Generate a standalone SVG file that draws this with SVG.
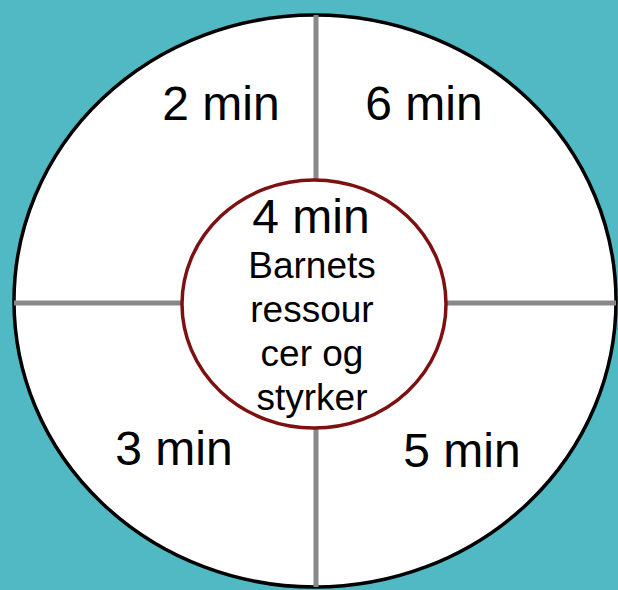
<svg xmlns="http://www.w3.org/2000/svg" width="618" height="590" viewBox="0 0 618 590">
<style>
.t{font-family:"Liberation Sans",Arial,sans-serif;fill:#000;text-anchor:middle}
.big{font-size:48px}
.small{font-size:37px}
.div{stroke:#888;stroke-width:5}
</style>
<rect width="618" height="590" fill="#50b9c3"/>
<g id="outer">
<ellipse cx="315" cy="301" rx="301" ry="286" fill="#fff" stroke="#000" stroke-width="3.5"/>
</g>
<g id="connectors">
<line class="div" x1="316" y1="15" x2="316" y2="587"/>
<line class="div" x1="14" y1="303" x2="616" y2="303"/>
</g>
<g id="q2"><text class="t big" x="221" y="120">2 min</text></g>
<g id="q6"><text class="t big" x="424" y="120">6 min</text></g>
<g id="q3"><text class="t big" x="174" y="465">3 min</text></g>
<g id="q5"><text class="t big" x="462" y="467">5 min</text></g>
<g id="center">
<ellipse cx="314" cy="304" rx="132" ry="124" fill="#fff" stroke="#7d1111" stroke-width="3.5"/>
<text class="t big" x="311" y="233">4 min</text>
<text class="t small" x="312" y="278">Barnets</text>
<text class="t small" x="312" y="322">ressour</text>
<text class="t small" x="312" y="366">cer og</text>
<text class="t small" x="312" y="410">styrker</text>
</g>
</svg>
